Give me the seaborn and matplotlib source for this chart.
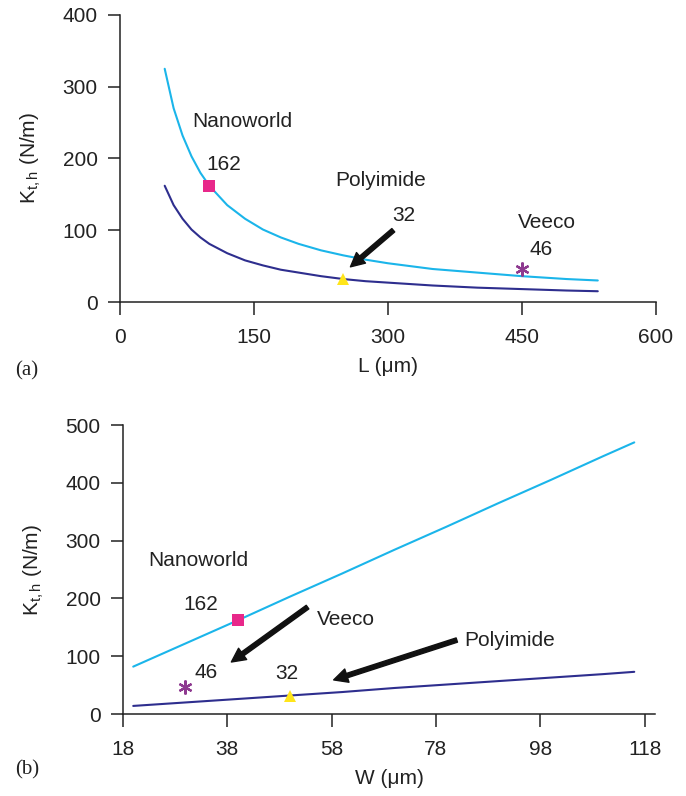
import numpy as np
import pandas as pd
import matplotlib
matplotlib.use('Agg')
import matplotlib.pyplot as plt
import seaborn as sns

# panel (a): stiffness vs length L
L_um = [50, 60, 70, 80, 90, 100, 120, 140, 160, 180, 200, 225, 250, 275, 300, 350, 400, 450, 500, 535]
k_nanoworld_L = [325, 270, 232, 203, 180, 162, 135, 116, 101, 90, 81, 72, 65, 59, 54, 46, 41, 36, 32, 30]
k_polyimide_L = [162, 135, 116, 101, 90, 81, 68, 58, 51, 45, 41, 36, 32, 29, 27, 23, 20, 18, 16, 15]

# panel (b): stiffness vs width W
W_um = [20, 30, 40, 50, 60, 70, 80, 90, 100, 110, 116]
k_nanoworld_W = [82, 122, 162, 203, 243, 284, 324, 365, 405, 446, 470]
k_polyimide_W = [14, 20, 26, 32, 38, 45, 51, 57, 63, 69, 73]

# commercial cantilevers (x in panel a, x in panel b, stiffness)
probe_names = ['Nanoworld', 'Polyimide', 'Veeco']
probe_L = [100, 250, 450]
probe_W = [40, 50, 30]
probe_k = [162, 32, 46]

cyan = '#1BB5EA'
navy = '#2E2E8E'
probe_style = {
    'Nanoworld': dict(marker='s', color='#E8288A', ms=8, mew=0),
    'Polyimide': dict(marker='^', color='#FFE51A', ms=9, mew=0),
    'Veeco': dict(marker=(6, 2, 0), color='#8E3A90', ms=10, mew=1.6),
}

sns.set_style('ticks')
plt.rcParams['font.family'] = ['Liberation Sans', 'DejaVu Sans']
plt.rcParams['mathtext.fontset'] = 'custom'
plt.rcParams['mathtext.rm'] = 'Liberation Sans'
plt.rcParams['mathtext.it'] = 'Liberation Sans'
plt.rcParams['axes.linewidth'] = 1.1
plt.rcParams['xtick.major.width'] = 1.1
plt.rcParams['ytick.major.width'] = 1.1
plt.rcParams['xtick.major.size'] = 9
plt.rcParams['ytick.major.size'] = 9
plt.rcParams['xtick.major.pad'] = 10
plt.rcParams['ytick.major.pad'] = 7
plt.rcParams['xtick.color'] = '#222222'
plt.rcParams['ytick.color'] = '#222222'

fs = 15
fig = plt.figure(figsize=(6.86, 7.96), dpi=100)
ax1 = fig.add_axes([0.175, 0.6206, 0.781, 0.3606])
ax2 = fig.add_axes([0.179, 0.103, 0.776, 0.363])

df_a = pd.DataFrame({'L': L_um, 'nano': k_nanoworld_L, 'poly': k_polyimide_L})
df_b = pd.DataFrame({'W': W_um, 'nano': k_nanoworld_W, 'poly': k_polyimide_W})

sns.lineplot(data=df_a, x='L', y='nano', ax=ax1, color=cyan, lw=1.5)
sns.lineplot(data=df_a, x='L', y='poly', ax=ax1, color=navy, lw=1.5)
sns.lineplot(data=df_b, x='W', y='nano', ax=ax2, color=cyan, lw=1.5)
sns.lineplot(data=df_b, x='W', y='poly', ax=ax2, color=navy, lw=1.5)

for name, xl, xw, k in zip(probe_names, probe_L, probe_W, probe_k):
    st = probe_style[name]
    ax1.plot(xl, k, ls='none', marker=st['marker'], color=st['color'],
             markersize=st['ms'], markeredgewidth=st['mew'], zorder=5)
    ax2.plot(xw, k, ls='none', marker=st['marker'], color=st['color'],
             markersize=st['ms'], markeredgewidth=st['mew'], zorder=5)

arrow = dict(facecolor='#111111', edgecolor='#111111', width=3.2, headwidth=10, headlength=10, shrink=0)
txt = dict(fontsize=fs, color='#222222', va='center')

# panel (a) labels
ax1.text(81, 252, 'Nanoworld', **txt)
ax1.text(97, 191, '162', **txt)
ax1.text(241, 170, 'Polyimide', **txt)
ax1.text(305, 120, '32', **txt)
ax1.annotate('', xy=(258, 49), xytext=(306, 100), arrowprops=arrow)
ax1.text(446, 111, 'Veeco', **txt)
ax1.text(459, 73, '46', **txt)

# panel (b) labels
ax2.text(22.8, 265, 'Nanoworld', **txt)
ax2.text(29.7, 190, '162', **txt)
ax2.text(55.1, 164, 'Veeco', **txt)
ax2.annotate('', xy=(38.8, 90), xytext=(53.4, 185), arrowprops=arrow)
ax2.text(83.4, 128, 'Polyimide', **txt)
ax2.annotate('', xy=(58.4, 59), xytext=(82.0, 128), arrowprops=arrow)
ax2.text(31.7, 71, '46', **txt)
ax2.text(47.2, 70, '32', **txt)

ylab = r'K$_{\mathrm{t,h}}$ (N/m)'
ax1.set_xlim(0, 600)
ax1.set_ylim(0, 400)
ax1.set_xticks([0, 150, 300, 450, 600])
ax1.set_yticks([0, 100, 200, 300, 400])
ax1.set_xlabel('L (\u03bcm)', fontsize=fs, color='#222222', labelpad=7)
ax1.set_ylabel(ylab, fontsize=fs, color='#222222', labelpad=14)

ax2.set_xlim(18, 120)
ax2.set_ylim(0, 500)
ax2.set_xticks([18, 38, 58, 78, 98, 118])
ax2.set_yticks([0, 100, 200, 300, 400, 500])
ax2.set_xlabel('W (\u03bcm)', fontsize=fs, color='#222222', labelpad=7)
ax2.set_ylabel(ylab, fontsize=fs, color='#222222', labelpad=14)

for ax in (ax1, ax2):
    sns.despine(ax=ax)
    ax.tick_params(labelsize=fs, labelcolor='#222222')
    ax.spines['left'].set_color('#222222')
    ax.spines['bottom'].set_color('#222222')

fig.text(0.022, 0.534, '(a)', fontsize=fs, family='Liberation Serif', color='#222222', va='center')
fig.text(0.022, 0.033, '(b)', fontsize=fs, family='Liberation Serif', color='#222222', va='center')

fig.savefig('out.png', dpi=100)
